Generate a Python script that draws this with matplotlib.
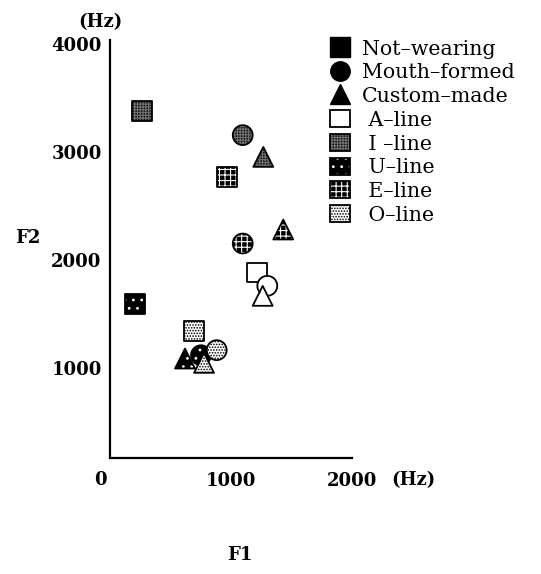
import matplotlib.pyplot as plt
import matplotlib.patches as mpatches
from matplotlib.lines import Line2D
from matplotlib.legend_handler import HandlerTuple

# ── Data: formant F1/F2 (Hz) per device and vowel line ───────────────────────

VOWELS  = ["A", "I", "U", "E", "O"]
DEVICES = ["Not–wearing", "Mouth–formed", "Custom–made"]
VOWEL_LABELS = [" A–line", " I –line", " U–line", " E–line", " O–line"]

not_wearing_f1  = [1217, 262, 207, 964, 694]
not_wearing_f2  = [1882, 3380, 1588, 2770, 1340]
mouth_formed_f1 = [1300, 1097, 752, 1097, 882]
mouth_formed_f2 = [1758, 3157, 1114, 2151, 1161]
custom_made_f1  = [1262, 1267, 620, 1432, 777]
custom_made_f2  = [1665, 2955, 1083, 2281, 1043]

X_TICKS = [0, 1000, 2000]
Y_TICKS = [1000, 2000, 3000, 4000]

# ── Style per vowel line: (face, hatch, hatch color) ─────────────────────────

FILL = {
    "A": ("white",   None,      "black"),
    "I": ("#141414", "++++++",  "#707070"),
    "U": ("black",   "..",      "white"),
    "E": ("black",   "+++",     "white"),
    "O": ("white",   "......",  "black"),
}
MARKERS = dict(zip(DEVICES, ["s", "o", "^"]))
SIZE = 205

plt.rcParams["font.family"] = "DejaVu Serif"
plt.rcParams["hatch.linewidth"] = 0.8

fig = plt.figure(figsize=(5.41, 5.74), dpi=100)
ax = fig.add_axes([0.2033, 0.2021, 0.4473, 0.7282])

series = [
    (DEVICES[0], not_wearing_f1,  not_wearing_f2),
    (DEVICES[1], mouth_formed_f1, mouth_formed_f2),
    (DEVICES[2], custom_made_f1,  custom_made_f2),
]

# hatched fill first, black outline on top; later markers overlap earlier ones
z = 3
for dev, f1, f2 in series:
    for i, v in enumerate(VOWELS):
        face, hatch, hcol = FILL[v]
        with plt.rc_context({"hatch.color": hcol}):
            ax.scatter([f1[i]], [f2[i]], s=SIZE, marker=MARKERS[dev], facecolor=face,
                       edgecolor=hcol, linewidths=0, hatch=hatch, zorder=z)
        ax.scatter([f1[i]], [f2[i]], s=SIZE, marker=MARKERS[dev], facecolor="none",
                   edgecolor="black", linewidths=1.3, zorder=z + 0.5)
        z += 1

ax.set_xlim(0, 2000)
ax.set_ylim(160, 4040)
for side in ["top", "right"]:
    ax.spines[side].set_visible(False)
for side in ["left", "bottom"]:
    ax.spines[side].set_linewidth(1.6)

ax.set_yticks(Y_TICKS)
ax.set_yticklabels([str(t) for t in Y_TICKS], fontsize=13, fontweight="bold")
ax.set_xticks(X_TICKS[1:])
ax.set_xticklabels([str(t) for t in X_TICKS[1:]], fontsize=13, fontweight="bold")
ax.tick_params(axis="both", length=0)
ax.tick_params(axis="y", pad=6)
ax.tick_params(axis="x", pad=10)

fig.text(100 / 541, 1 - 480 / 574, "0", ha="center", va="center", fontsize=13, fontweight="bold")
fig.text(413 / 541, 1 - 480 / 574, "(Hz)", ha="center", va="center", fontsize=13, fontweight="bold")
fig.text(100 / 541, 1 - 22 / 574, "(Hz)", ha="center", va="center", fontsize=13, fontweight="bold")
fig.text(28 / 541, 1 - 238 / 574, "F2", ha="center", va="center", fontsize=13, fontweight="bold")
fig.text(240 / 541, 1 - 555 / 574, "F1", ha="center", va="center", fontsize=13, fontweight="bold")

# ── Legend ───────────────────────────────────────────────────────────────────

handles = []
for dev in DEVICES:
    handles.append(Line2D([], [], linestyle="none", marker=MARKERS[dev], markersize=14,
                          markerfacecolor="black", markeredgecolor="black"))
for v in VOWELS:
    face, hatch, hcol = FILL[v]
    under = mpatches.Patch(facecolor=face, edgecolor=hcol, hatch=hatch, linewidth=0)
    outline = mpatches.Patch(facecolor="none", edgecolor="black", linewidth=1.3)
    handles.append((under, outline))

fig.legend(handles, DEVICES + VOWEL_LABELS, loc="upper left",
           bbox_to_anchor=(330 / 541, 1 - 39 / 574),
           frameon=False, fontsize=14.8, handlelength=0.95, handleheight=0.9,
           handletextpad=0.6, labelspacing=0.2, borderpad=0, borderaxespad=0,
           handler_map={tuple: HandlerTuple(ndivide=1, pad=0)})

fig.savefig("out.png", dpi=100)
